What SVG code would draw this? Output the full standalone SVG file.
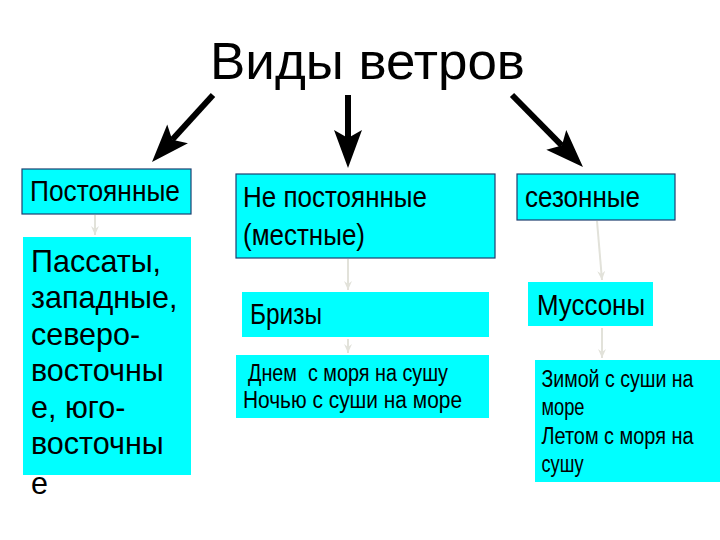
<svg xmlns="http://www.w3.org/2000/svg" width="720" height="540" viewBox="0 0 720 540">
<defs>
<style>
.box{fill:#00ffff}
.bd{stroke:#1f3f6f;stroke-width:1.2}
text{font-family:"Liberation Sans",Arial,sans-serif;fill:#000}
.lbl{font-size:29.5px}
.big{font-size:30.5px}
.sm{font-size:23px}
.thick{stroke:#000;stroke-width:6;fill:none}
.thin{stroke:#e2e2da;stroke-width:2;fill:none}
</style>
<marker id="bh" markerUnits="userSpaceOnUse" viewBox="-10 -16 42 32" refX="0" refY="0" markerWidth="42" markerHeight="32" orient="auto">
<path d="M30,0 L-8,-14 L0,0 L-8,14 Z" fill="#000"/>
</marker>
<marker id="gh" markerUnits="userSpaceOnUse" viewBox="-10 -6 12 12" refX="0" refY="0" markerWidth="12" markerHeight="12" orient="auto">
<path d="M0,0 L-9,-4 L-6,0 L-9,4 Z" fill="#e2e2da"/>
</marker>
</defs>
<rect width="720" height="540" fill="#fff"/>
<text x="367.5" y="79" font-size="52" text-anchor="middle" textLength="315" lengthAdjust="spacingAndGlyphs">Виды ветров</text>
<g id="connectors">
<line class="thick" x1="213" y1="95" x2="172.2" y2="139.8" marker-end="url(#bh)"/>
<line class="thick" x1="348" y1="95" x2="348" y2="138" marker-end="url(#bh)"/>
<line class="thick" x1="512" y1="95" x2="561.9" y2="145.6" marker-end="url(#bh)"/>
<line class="thin" x1="95" y1="215" x2="95" y2="235" marker-end="url(#gh)"/>
<line class="thin" x1="348" y1="259" x2="348" y2="290" marker-end="url(#gh)"/>
<line class="thin" x1="348" y1="339" x2="348" y2="353" marker-end="url(#gh)"/>
<line class="thin" x1="597" y1="221" x2="602" y2="280" marker-end="url(#gh)"/>
<line class="thin" x1="602" y1="328" x2="602" y2="358" marker-end="url(#gh)"/>
</g>
<g id="postoyannye">
<rect class="box bd" x="22" y="169" width="169" height="45"/>
<text class="lbl" x="30" y="200.5" textLength="150" lengthAdjust="spacingAndGlyphs">Постоянные</text>
</g>
<g id="passaty">
<rect class="box" x="23" y="237" width="168" height="238"/>
<text class="big" x="31"><tspan x="31" y="271.5">Пассаты,</tspan><tspan x="31" y="308">западные,</tspan><tspan x="31" y="344.5">северо-</tspan><tspan x="31" y="381">восточны</tspan><tspan x="31" y="417.5">е, юго-</tspan><tspan x="31" y="454">восточны</tspan><tspan x="31" y="494">е</tspan></text>
</g>
<g id="nepostoyannye">
<rect class="box bd" x="236" y="174" width="259" height="84"/>
<text class="lbl"><tspan x="243" y="207" textLength="184" lengthAdjust="spacingAndGlyphs">Не постоянные</tspan><tspan x="243" y="245" textLength="122" lengthAdjust="spacingAndGlyphs">(местные)</tspan></text>
</g>
<g id="brizy">
<rect class="box" x="242" y="292" width="247" height="45"/>
<text class="lbl" x="250" y="323.5" textLength="72" lengthAdjust="spacingAndGlyphs">Бризы</text>
</g>
<g id="brizy-desc">
<rect class="box" x="236" y="355" width="253" height="63"/>
<text class="sm"><tspan x="248" y="381" xml:space="preserve" textLength="200" lengthAdjust="spacingAndGlyphs">Днем  с моря на сушу</tspan><tspan x="243" y="407.5" textLength="219" lengthAdjust="spacingAndGlyphs">Ночью с суши на море</tspan></text>
</g>
<g id="sezonnye">
<rect class="box bd" x="517" y="174" width="158" height="46"/>
<text class="lbl" x="525" y="206.5" textLength="115" lengthAdjust="spacingAndGlyphs">сезонные</text>
</g>
<g id="mussony">
<rect class="box" x="528" y="282" width="125" height="44"/>
<text class="lbl" x="537" y="315" textLength="108" lengthAdjust="spacingAndGlyphs">Муссоны</text>
</g>
<g id="mussony-desc">
<rect class="box" x="535" y="360" width="185" height="122"/>
<text class="sm"><tspan x="541.5" y="386.5" textLength="152" lengthAdjust="spacingAndGlyphs">Зимой с суши на</tspan><tspan x="541.5" y="415" textLength="43" lengthAdjust="spacingAndGlyphs">море</tspan><tspan x="541.5" y="443.5" textLength="152" lengthAdjust="spacingAndGlyphs">Летом с моря на</tspan><tspan x="541.5" y="472" textLength="42" lengthAdjust="spacingAndGlyphs">сушу</tspan></text>
</g>
</svg>
